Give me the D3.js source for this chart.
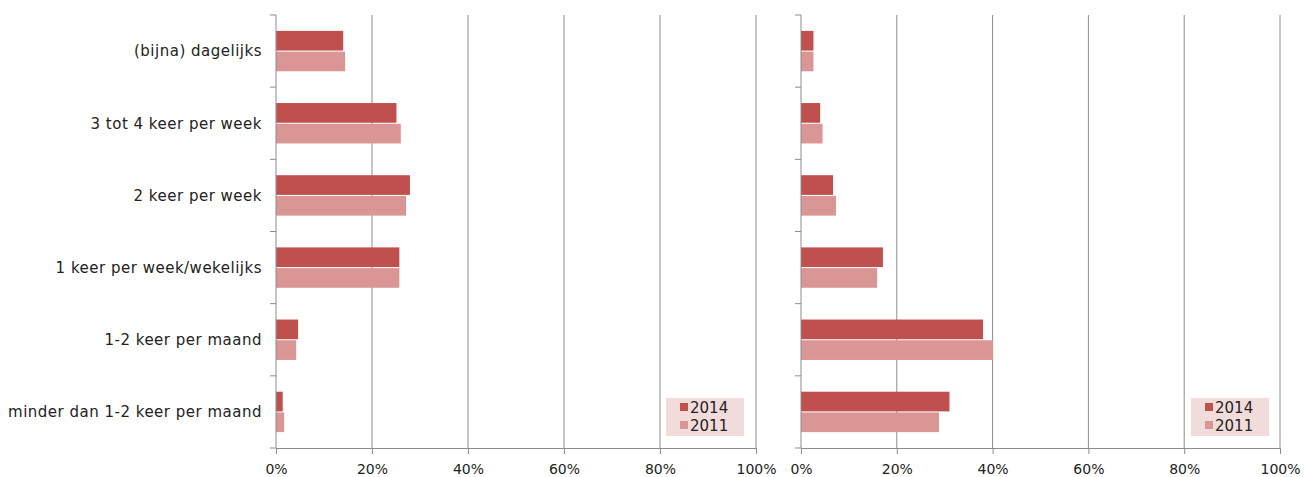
<!DOCTYPE html>
<html>
<head>
<meta charset="utf-8">
<script src="https://cdn.jsdelivr.net/npm/d3@7"></script>
<style>
  body { margin: 0; background: #fff; }
  text { font-family: "DejaVu Sans", Verdana, sans-serif; fill: #222; }
  .cat { font-size: 15px; letter-spacing: 0.5px; }
  .tick-label { font-size: 14px; }
  .legend-text { font-size: 15px; }
</style>
</head>
<body>
<div id="chart"></div>
<script>
// categories, top to bottom
const categories = ["(bijna) dagelijks", "3 tot 4 keer per week", "2 keer per week",
  "1 keer per week/wekelijks", "1-2 keer per maand", "minder dan 1-2 keer per maand"];
const years = ["2014", "2011"];

// left panel (%)
const left2014 = [14.0, 25.1, 27.9, 25.7, 4.6, 1.4];
const left2011 = [14.4, 26.0, 27.1, 25.7, 4.2, 1.7];

// right panel (%)
const right2014 = [2.6, 4.0, 6.7, 17.1, 38.0, 31.0];
const right2011 = [2.6, 4.5, 7.3, 15.9, 40.1, 28.8];

const xTicks = [0, 20, 40, 60, 80, 100];

const colors = {"2014": "#c0504d", "2011": "#d99694"};

const svgWidth = 1305, svgHeight = 477;
const plotTop = 15, plotBottom = 448;

var svg = d3.select("#chart").append("svg")
  .attr("width", svgWidth)
  .attr("height", svgHeight);

var y = d3.scaleBand()
  .domain(categories)
  .range([plotTop, plotBottom])
  .paddingInner(0.44)
  .paddingOuter(0.22);

var ySub = d3.scaleBand()
  .domain(years)
  .range([0, y.bandwidth()])
  .paddingInner(0.05);

function drawPanel(x0, x1, v2014, v2011, showLabels) {
  var x = d3.scaleLinear().domain([0, 100]).range([x0, x1]);
  var g = svg.append("g");

  // gridlines
  g.selectAll(".grid")
    .data(xTicks.slice(1))
    .enter().append("line")
      .attr("x1", d => x(d)).attr("x2", d => x(d))
      .attr("y1", plotTop).attr("y2", plotBottom)
      .attr("stroke", "#8c8c8c")
      .attr("stroke-width", 1);

  var rows = categories.map((c, i) => ({cat: c, "2014": v2014[i], "2011": v2011[i]}));

  var grp = g.selectAll(".row")
    .data(rows)
    .enter().append("g")
      .attr("transform", d => "translate(0," + y(d.cat) + ")");

  grp.selectAll("rect")
    .data(d => years.map(k => ({key: k, value: d[k]})))
    .enter().append("rect")
      .attr("x", x(0))
      .attr("y", d => ySub(d.key))
      .attr("width", d => x(d.value) - x(0))
      .attr("height", ySub.bandwidth())
      .attr("fill", d => colors[d.key]);

  // x axis
  var xAxis = d3.axisBottom(x)
    .tickValues(xTicks)
    .tickFormat(d => d + "%")
    .tickSize(6)
    .tickSizeOuter(0);

  var ax = g.append("g")
    .attr("transform", "translate(0," + plotBottom + ")")
    .call(xAxis);
  ax.attr("font-family", null).attr("font-size", null);
  ax.select(".domain").attr("stroke", "#8c8c8c");
  ax.selectAll(".tick line").attr("stroke", "#8c8c8c");
  ax.selectAll(".tick text")
    .attr("class", "tick-label")
    .attr("dy", null)
    .attr("y", 26)
    .attr("fill", "#222");

  // y axis line with ticks between categories
  var step = (plotBottom - plotTop) / categories.length;
  var bounds = d3.range(categories.length + 1).map(i => plotTop + i * step);

  g.append("line")
    .attr("x1", x(0)).attr("x2", x(0))
    .attr("y1", plotTop).attr("y2", plotBottom)
    .attr("stroke", "#8c8c8c");
  g.selectAll(".ytick")
    .data(bounds)
    .enter().append("line")
      .attr("x1", x(0) - 6).attr("x2", x(0))
      .attr("y1", d => d).attr("y2", d => d)
      .attr("stroke", "#8c8c8c");

  if (showLabels) {
    g.selectAll(".cat")
      .data(categories)
      .enter().append("text")
        .attr("class", "cat")
        .attr("x", x(0) - 14)
        .attr("y", d => y(d) + y.bandwidth() / 2)
        .attr("dy", "0.35em")
        .attr("text-anchor", "end")
        .text(d => d);
  }

  // legend
  var lx = x(0) + 390, ly = 398;
  var lg = g.append("g").attr("transform", "translate(" + lx + "," + ly + ")");
  lg.append("rect")
    .attr("width", 78).attr("height", 38)
    .attr("fill", "#f2dcdb");
  lg.selectAll(".lsq")
    .data(years)
    .enter().append("rect")
      .attr("x", 14).attr("y", (d, i) => 5 + i * 18)
      .attr("width", 8).attr("height", 8)
      .attr("fill", d => colors[d]);
  lg.selectAll(".ltxt")
    .data(years)
    .enter().append("text")
      .attr("class", "legend-text")
      .attr("x", 24).attr("y", (d, i) => 15 + i * 18)
      .text(d => d);
}

drawPanel(276, 756, left2014, left2011, true);
drawPanel(801, 1280, right2014, right2011, false);
</script>
</body>
</html>
